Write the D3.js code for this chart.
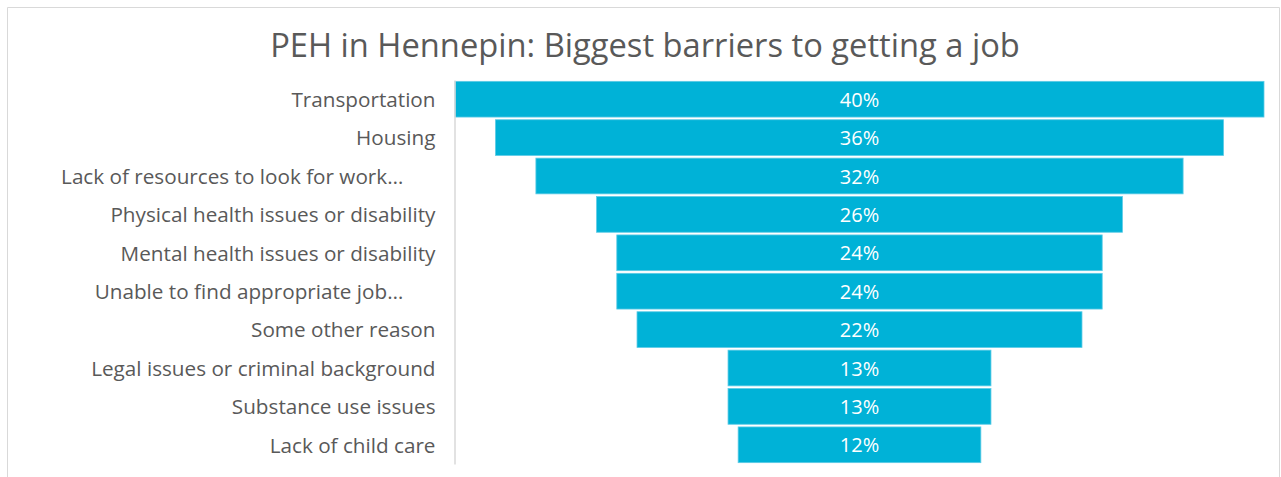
<!doctype html>
<html>
<head>
<script src="https://d3js.org/d3.v7.min.js"></script>
<style>
    body { margin: 0; background: #ffffff; }
    text { font-family: "Open Sans", sans-serif; }
</style>
</head>
<body>
<script>
    // data
    var categories = [
        "Transportation",
        "Housing",
        "Lack of resources to look for work…\u00a0\u00a0\u00a0\u00a0\u00a0\u00a0",
        "Physical health issues or disability",
        "Mental health issues or disability",
        "Unable to find appropriate job…\u00a0\u00a0\u00a0\u00a0\u00a0\u00a0",
        "Some other reason",
        "Legal issues or criminal background",
        "Substance use issues",
        "Lack of child care"
    ];
    var values = [40, 36, 32, 26, 24, 24, 22, 13, 13, 12];
    var valueLabels = ["40%", "36%", "32%", "26%", "24%", "24%", "22%", "13%", "13%", "12%"];

    var W = 1281, H = 477;
    var plotLeft = 455, plotRight = 1264, plotTop = 80, plotBottom = 464;
    var center = (plotLeft + plotRight) / 2;

    var svg = d3.select("body").append("svg")
        .attr("width", W)
        .attr("height", H);

    // chart frame (bottom cut off)
    svg.append("path")
        .attr("d", "M7.5," + H + " V7.5 H1279.5 V" + H)
        .attr("fill", "none")
        .attr("stroke", "#d9d9d9")
        .attr("stroke-width", 1);

    svg.append("text")
        .attr("x", 645)
        .attr("y", 57)
        .attr("text-anchor", "middle")
        .attr("font-size", "32.7px")
        .attr("fill", "#595959")
        .text("PEH in Hennepin: Biggest barriers to getting a job");

    var y = d3.scaleBand()
        .domain(categories)
        .range([plotTop, plotBottom])
        .paddingInner(0.07)
        .paddingOuter(0.035);

    var w = d3.scaleLinear()
        .domain([0, 40])
        .range([0, plotRight - plotLeft]);

    var data = categories.map(function (c, i) {
        return {cat: c, value: values[i], label: valueLabels[i]};
    });

    // bars, centred like a funnel
    svg.append("g")
        .selectAll("rect")
        .data(data)
        .enter()
        .append("rect")
        .attr("x", function (d) { return center - w(d.value) / 2; })
        .attr("y", function (d) { return y(d.cat); })
        .attr("width", function (d) { return w(d.value); })
        .attr("height", y.bandwidth())
        .attr("fill", "#00b2d7")
        .attr("stroke", "#5ccbe6")
        .attr("stroke-width", 0.8);

    svg.append("g")
        .selectAll("text")
        .data(data)
        .enter()
        .append("text")
        .attr("x", center)
        .attr("y", function (d) { return y(d.cat) + y.bandwidth() / 2; })
        .attr("dy", "0.38em")
        .attr("text-anchor", "middle")
        .attr("font-size", "20px")
        .attr("fill", "#ffffff")
        .text(function (d) { return d.label; });

    // category axis
    var axis = svg.append("g")
        .attr("transform", "translate(" + (plotLeft - 0.5) + ",0)")
        .call(d3.axisLeft(y).tickSize(0).tickPadding(19));
    axis.select(".domain").attr("stroke", "#d9d9d9").attr("stroke-width", 1.5);
    axis.selectAll("text")
        .attr("dy", "0.38em")
        .attr("font-size", "20.7px")
        .attr("fill", "#595959")
        .attr("font-family", "'Open Sans', sans-serif");
</script>
</body>
</html>
